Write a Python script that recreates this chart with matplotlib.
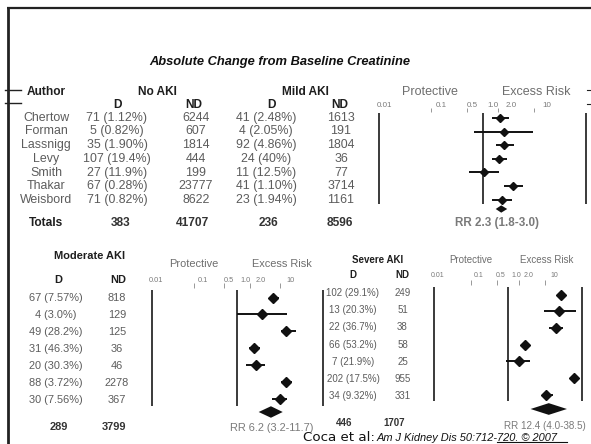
import matplotlib
matplotlib.use("Agg")
import matplotlib.pyplot as plt
from matplotlib import font_manager as fm

# ---------------- data ----------------
authors = ['Chertow', 'Forman', 'Lassnigg', 'Levy', 'Smith', 'Thakar', 'Weisbord']
no_aki_d = ['71 (1.12%)', '5 (0.82%)', '35 (1.90%)', '107 (19.4%)', '27 (11.9%)', '67 (0.28%)', '71 (0.82%)']
no_aki_nd = [6244, 607, 1814, 444, 199, 23777, 8622]
mild_d = ['41 (2.48%)', '4 (2.05%)', '92 (4.86%)', '24 (40%)', '11 (12.5%)', '41 (1.10%)', '23 (1.94%)']
mild_nd = [1613, 191, 1804, 36, 77, 3714, 1161]
mild_rr = [2.2, 2.6, 2.6, 2.1, 1.05, 3.85, 2.35]
mild_lo = [1.5, 0.68, 1.8, 1.5, 0.54, 2.65, 1.55]
mild_hi = [3.3, 9.4, 4.0, 3.0, 2.1, 6.0, 3.75]
no_aki_totals = [383, 41707]
mild_totals = [236, 8596]
mild_summary = [2.3, 1.8, 3.0]

moderate_d = ['67 (7.57%)', '4 (3.0%)', '49 (28.2%)', '31 (46.3%)', '20 (30.3%)', '88 (3.72%)', '30 (7.56%)']
moderate_nd = [818, 129, 125, 36, 46, 2278, 367]
mod_rr = [7.0, 3.9, 14.2, 2.5, 2.7, 13.9, 10.0]
mod_lo = [5.5, 1.0, 10.4, 1.95, 1.63, 10.8, 6.5]
mod_hi = [9.5, 15.0, 23.5, 3.35, 4.6, 19.7, 15.0]
mod_totals = [289, 3799]
mod_summary = [6.2, 3.2, 11.7]

severe_d = ['102 (29.1%)', '13 (20.3%)', '22 (36.7%)', '66 (53.2%)', '7 (21.9%)', '202 (17.5%)', '34 (9.32%)']
severe_nd = [249, 51, 38, 58, 25, 955, 331]
sev_rr = [26.6, 23.9, 19.1, 2.83, 1.91, 59.7, 10.4]
sev_lo = [21.6, 9.4, 12.8, 2.39, 0.87, 48.6, 8.0]
sev_hi = [32.6, 66.0, 30.6, 3.35, 3.86, 73.0, 15.8]
sev_totals = [446, 1707]
sev_summary = [12.4, 4.0, 38.5]

tick_values = [0.1, 0.5, 2.0, 10]
tick_labels = ['0.01', '0.1', '0.5', '1.0', '2.0', '10']
axis_range = [0.01, 100]
null_value = 1.0

# ---------------- setup ----------------
names = {f.name for f in fm.fontManager.ttflist}
SANS = 'Liberation Sans'
HAS_NARROW = 'Liberation Sans Narrow' in names
NARROW = 'Liberation Sans Narrow' if HAS_NARROW else 'Liberation Sans'
NS = 9.2 if HAS_NARROW else 7.9      # moderate panel text size
SS = 8.1 if HAS_NARROW else 7.0      # severe panel text size
RS = 8.4 if HAS_NARROW else 7.1      # severe RR text size

W, H = 591, 444
fig = plt.figure(figsize=(W / 100, H / 100), dpi=100)
fig.patch.set_facecolor('white')
ov = fig.add_axes([0, 0, 1, 1])
ov.set_xlim(0, W)
ov.set_ylim(H, 0)
ov.axis('off')

DATA_C = '#5c5c5c'
HEAD_C = '#1e1e1e'
LAB_C = '#6e6e6e'
LINE_C = '#3a3a3a'


def T(x, y, s, size=9.2, color=DATA_C, weight='normal', ha='center', family=SANS, style='normal'):
    ov.text(x, y, s, ha=ha, va='center', fontsize=size, color=color, fontweight=weight,
            family=family, style=style)


# frame
ov.plot([7.5, 7.5], [8, H], color='#222222', lw=2.0, solid_capstyle='butt')
ov.plot([7, W], [8, 8], color='#222222', lw=1.6, solid_capstyle='butt')
ov.plot([5, 21], [90, 90], color='#222222', lw=1.0)
ov.plot([5, 21], [103.5, 103.5], color='#222222', lw=1.0)
ov.plot([587, W], [90, 90], color='#222222', lw=0.8)
ov.plot([587, W], [104, 104], color='#222222', lw=0.8)

# title
T(280, 62, 'Absolute Change from Baseline Creatinine', size=9.3, color='#111111',
  weight='bold', style='italic')


def forest(xl, xr, y0, dy, ytop, ybot, rr, lo, hi, summary, ysum, hsum, tick_top, tick_bot, ms):
    ax = fig.add_axes([xl / W, 1 - ybot / H, (xr - xl) / W, (ybot - ytop) / H])
    ax.set_xscale('log')
    ax.set_xlim(axis_range)
    ax.set_ylim((ybot - y0) / dy, (ytop - y0) / dy)
    ax.axis('off')
    rows = list(range(len(rr)))
    ax.vlines([axis_range[0], null_value, axis_range[1]], (ytop - y0) / dy, (ybot - y0) / dy,
              color=LINE_C, lw=1.4, clip_on=False)
    ax.vlines(tick_values, (tick_top - y0) / dy, (tick_bot - y0) / dy, color='#888888', lw=0.6,
              clip_on=False)
    ax.hlines(rows, lo, hi, color='#111111', lw=1.4, clip_on=False)
    ax.plot(rr, rows, 'D', color='#111111', ms=ms, clip_on=False)
    s, sl, sh = summary
    yc = (ysum - y0) / dy
    ax.fill([sl, s, sh, s], [yc, yc - hsum, yc, yc + hsum], color='#111111', clip_on=False, lw=0)
    return ax


label_frac = [0.025, 0.30, 0.45, 0.552, 0.64, 0.81]


def forest_header(xl, xr, yhead, ylab, size, family, tsize):
    wdt = xr - xl
    T(xl + 0.245 * wdt, yhead, 'Protective', size=size, color=LAB_C, family=family)
    T(xl + 0.76 * wdt, yhead, 'Excess Risk', size=size, color=LAB_C, family=family)
    for f, lab in zip(label_frac, tick_labels):
        T(xl + f * wdt, ylab, lab, size=tsize, color='#7a7a7a', family=family)


# ---------------- top panel ----------------
T(46, 92, 'Author', size=8.6, color=HEAD_C, weight='bold')
T(157, 92, 'No AKI', size=8.6, color=HEAD_C, weight='bold')
T(305, 92, 'Mild AKI', size=8.6, color=HEAD_C, weight='bold')
T(118, 104.5, 'D', size=8.6, color=HEAD_C, weight='bold')
T(194, 104.5, 'ND', size=8.6, color=HEAD_C, weight='bold')
T(272, 104.5, 'D', size=8.6, color=HEAD_C, weight='bold')
T(340, 104.5, 'ND', size=8.6, color=HEAD_C, weight='bold')
for i in range(len(authors)):
    y = 117.5 + 13.75 * i
    T(46, y, authors[i], size=8.9)
    T(117, y, no_aki_d[i], size=8.9)
    T(196, y, str(no_aki_nd[i]), size=8.9)
    T(266, y, mild_d[i], size=8.9)
    T(341, y, str(mild_nd[i]), size=8.9)
T(46, 223, 'Totals', size=8.6, color=HEAD_C, weight='bold')
T(121, 223, str(no_aki_totals[0]), size=8.6, color='#333333', weight='bold')
T(192, 223, str(no_aki_totals[1]), size=8.6, color='#333333', weight='bold')
T(268, 223, str(mild_totals[0]), size=8.6, color='#333333', weight='bold')
T(340, 223, str(mild_totals[1]), size=8.6, color='#333333', weight='bold')
T(497, 223, 'RR %.1f (%.1f-%.1f)' % tuple(mild_summary), size=8.4, color='#7a7a7a', weight='bold')

forest_header(379, 586, 92, 105, 9.0, SANS, 5.8)
forest(379, 586, 118, 13.6, 113, 204, mild_rr, mild_lo, mild_hi, mild_summary,
       209, 0.27, 108, 112, 4.4)

# ---------------- moderate panel ----------------
T(90, 256, 'Moderate AKI', size=NS, color=HEAD_C, weight='bold', family=NARROW)
T(58, 280, 'D', size=NS, color=HEAD_C, weight='bold', family=NARROW)
T(118, 280, 'ND', size=NS, color=HEAD_C, weight='bold', family=NARROW)
for i in range(len(moderate_d)):
    y = 298 + 17 * i
    T(56, y, moderate_d[i], size=NS, family=NARROW)
    T(117, y, str(moderate_nd[i]), size=NS, family=NARROW)
T(59, 427, str(mod_totals[0]), size=NS, color='#333333', weight='bold', family=NARROW)
T(114, 427, str(mod_totals[1]), size=NS, color='#333333', weight='bold', family=NARROW)
T(230, 428, 'RR %.1f (%.1f-%.1f)' % tuple(mod_summary), size=NS, color='#7a7a7a',
  family=NARROW, ha='left')

forest_header(151.7, 322.5, 264, 280, NS, NARROW, 5.3)
forest(151.7, 322.5, 297.5, 16.9, 290, 406, mod_rr, mod_lo, mod_hi, mod_summary,
       412, 0.34, 283, 288, 4.6)

# ---------------- severe panel ----------------
T(377.5, 260, 'Severe AKI', size=SS, color=HEAD_C, weight='bold', family=NARROW)
T(353, 275, 'D', size=SS, color=HEAD_C, weight='bold', family=NARROW)
T(402, 275, 'ND', size=SS, color=HEAD_C, weight='bold', family=NARROW)
for i in range(len(severe_d)):
    y = 293 + 17.2 * i
    T(353, y, severe_d[i], size=SS, family=NARROW)
    T(402.5, y, str(severe_nd[i]), size=SS, family=NARROW)
T(344, 423, str(sev_totals[0]), size=SS, color='#333333', weight='bold', family=NARROW)
T(394, 423, str(sev_totals[1]), size=SS, color='#333333', weight='bold', family=NARROW)
T(545, 426, 'RR %.1f (%.1f-%.1f)' % tuple(sev_summary), size=RS, color='#7a7a7a', family=NARROW)

forest_header(434.3, 582.3, 260, 275, SS, NARROW, 5.0)
forest(434.3, 582.3, 294.7, 16.7, 287, 401, sev_rr, sev_lo, sev_hi, sev_summary,
       409, 0.35, 280, 285, 4.6)

# ---------------- citation ----------------
T(303, 437, 'Coca et al:', size=9.6, color='#111111', family='DejaVu Sans', ha='left')
T(377, 437.5, 'Am J Kidney Dis 50:712-720. \u00a9 2007', size=7.9, color='#111111',
  style='italic', ha='left')
ov.plot([497, 567], [441.5, 441.5], color='#111111', lw=0.8)

fig.savefig('out.png', dpi=100, facecolor='white')
